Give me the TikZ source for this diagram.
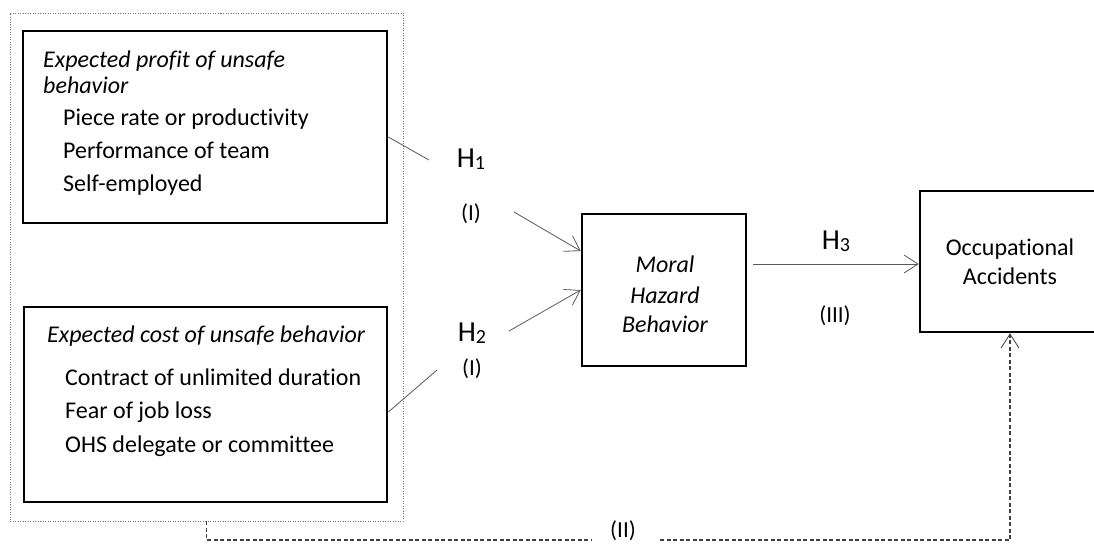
\documentclass[tikz,border=0pt]{standalone}
\usepackage{fontspec}
\setmainfont{Carlito}[Ligatures={NoCommon,NoRequired,NoContextual}]
\usetikzlibrary{arrows.meta}
\begin{document}
\begin{tikzpicture}[x=1pt,y=-1pt,
  box/.style={draw=black,line width=2.6pt,inner sep=0pt},
  txt/.style={font=\fontsize{24}{28}\selectfont,inner sep=0pt,anchor=base west},
  ctxt/.style={font=\fontsize{24}{28}\selectfont,inner sep=0pt,anchor=base},
  itxt/.style={txt,font=\fontsize{24}{28}\selectfont\itshape},
  ictxt/.style={ctxt,font=\fontsize{24}{28}\selectfont\itshape},
  hlab/.style={font=\fontsize{29}{30}\selectfont,inner sep=0pt,anchor=base},
  rlab/.style={font=\fontsize{23}{26}\selectfont,inner sep=0pt,anchor=base},
  stub/.style={draw=black!65,line width=0.8pt},
  arr/.style={draw=black!65,line width=0.8pt,-{Straight Barb[length=14pt,width=18pt,line width=0.8pt]}},
  grp/.style={draw=black!55,line width=0.8pt,dash pattern=on 1pt off 1.5pt,inner sep=0pt},
  dsh/.style={draw=black!75,line width=1.4pt,dash pattern=on 4pt off 2.5pt},
]
\clip (0,0) rectangle (1094,544);
\fill[white] (0,0) rectangle (1094,544);

% group (dotted) box
\node[grp,minimum width=393pt,minimum height=508pt] (outer) at (206.5,267) {};

% box 1
\node[box,minimum width=364pt,minimum height=192pt] (b1) at (205,127) {};
\node[itxt] (b1t1) at (43,67) {Expected profit of unsafe};
\node[itxt] (b1t2) at (43,93) {behavior};
\node[txt] (b1t3) at (63,125) {Piece rate or productivity};
\node[txt] (b1t4) at (63,158) {Performance of team};
\node[txt] (b1t5) at (63,191) {Self-employed};

% box 2
\node[box,minimum width=363pt,minimum height=195pt] (b2) at (205.5,404.5) {};
\node[itxt] (b2t1) at (47,342) {Expected cost of unsafe behavior};
\node[txt] (b2t2) at (65,385) {Contract of unlimited duration};
\node[txt] (b2t3) at (65,418) {Fear of job loss};
\node[txt] (b2t4) at (65,452) {OHS delegate or committee};

% moral hazard box
\node[box,minimum width=164pt,minimum height=152pt] (mhb) at (664,290) {};
\node[ictxt] (m1) at (665,272) {Moral};
\node[ictxt] (m2) at (665,303) {Hazard};
\node[ictxt] (m3) at (665,332) {Behavior};

% occupational accidents box
\node[box,minimum width=180pt,minimum height=141pt] (occ) at (1010,261.5) {};
\node[ctxt] (o1) at (1010,255) {Occupational};
\node[ctxt] (o2) at (1010,284) {Accidents};

% labels
\node[hlab] (h1) at (471,167) {H\raisebox{-2pt}{\fontsize{20}{20}\selectfont 1}};
\node[rlab] (r1) at (471,220) {(I)};
\node[hlab] (h2) at (472,341) {H\raisebox{-2pt}{\fontsize{20}{20}\selectfont 2}};
\node[rlab] (r2) at (472,375) {(I)};
\node[hlab] (h3) at (836,249) {H\raisebox{-2pt}{\fontsize{20}{20}\selectfont 3}};
\node[rlab] (r3) at (835,322) {(III)};
\node[rlab] (r4) at (623,537) {(II)};

% connector coordinates
\coordinate (s1) at (429,160);
\coordinate (a1) at (514,212);
\coordinate (s2) at (437,370);
\coordinate (a2) at (509,331);
\coordinate (a3) at (753,264);
\coordinate (d1) at (592,540);
\coordinate (d2) at (660,540);

% H1
\draw[stub] ([yshift=-10pt]b1.east) -- (s1);
\draw[arr] (a1) -- ([yshift=39pt]mhb.west);
% H2
\draw[stub] ([yshift=-7.5pt]b2.east) -- (s2);
\draw[arr] (a2) -- (mhb.west);
% H3
\draw[arr] (a3) -- (a3 -| occ.west);
% II (dashed)
\draw[dsh] (outer.south) |- (d1);
\draw[dsh,-{Straight Barb[length=14pt,width=18pt,line width=0.8pt]}] (d2) -| (occ.south);
\end{tikzpicture}
\end{document}
